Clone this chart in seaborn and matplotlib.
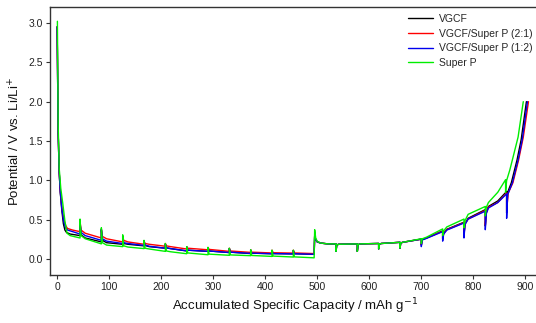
import matplotlib
matplotlib.use("Agg")
import matplotlib.pyplot as plt
import seaborn as sns
import pandas as pd

# ---- data: (accumulated capacity mAh/g, potential V) ----
vgcf = [
    (0, 2.95), (2, 1.6), (4, 1.1), (6, 0.85), (9, 0.62), (12, 0.45), (15, 0.37), (18, 0.34), (25, 0.32),
    (44, 0.30), (44, 0.46), (46, 0.31), (54, 0.27),
    (85, 0.22), (85, 0.37), (87, 0.24), (95, 0.21),
    (126, 0.19), (126, 0.29), (128, 0.20), (136, 0.19),
    (167, 0.17), (167, 0.23), (169, 0.175), (177, 0.16),
    (208, 0.14), (208, 0.19), (210, 0.145), (218, 0.135),
    (249, 0.105), (249, 0.155), (251, 0.115),
    (290, 0.10), (290, 0.145), (292, 0.105),
    (331, 0.085), (331, 0.135), (333, 0.09),
    (372, 0.072), (372, 0.115), (374, 0.077),
    (413, 0.07), (413, 0.11), (415, 0.072),
    (454, 0.068), (454, 0.11), (456, 0.07),
    (494, 0.063), (495, 0.29), (497, 0.25), (500, 0.22), (507, 0.205), (520, 0.195),
    (536, 0.195), (536, 0.10), (537.5, 0.18), (541, 0.19),
    (577, 0.195), (577, 0.10), (578.5, 0.185), (582, 0.195),
    (618, 0.20), (618, 0.13), (619.5, 0.19), (623, 0.20),
    (659, 0.215), (659, 0.14), (660.5, 0.205), (664, 0.215),
    (700, 0.255), (700, 0.18), (702, 0.25), (710, 0.27),
    (741, 0.36), (741, 0.26), (743, 0.33), (749, 0.38),
    (782, 0.47), (782, 0.30), (784, 0.45), (790, 0.52),
    (823, 0.63), (823, 0.42), (825, 0.60), (829, 0.67), (847, 0.74),
    (864, 0.86), (864, 0.59), (866, 0.85), (873, 0.97), (884, 1.26), (892, 1.52), (902, 2.0),
]

vgcf_sp_21 = [
    (0, 2.95), (2, 1.6), (4, 1.1), (6, 0.87), (9, 0.66), (13, 0.50), (17, 0.42), (20, 0.39), (30, 0.37),
    (44, 0.35), (44, 0.48), (46, 0.37), (54, 0.33),
    (85, 0.27), (85, 0.38), (87, 0.29), (95, 0.26),
    (126, 0.22), (126, 0.29), (128, 0.24), (136, 0.22),
    (167, 0.19), (167, 0.23), (169, 0.20), (177, 0.19),
    (208, 0.165), (208, 0.20), (210, 0.17), (218, 0.16),
    (249, 0.13), (249, 0.16), (251, 0.14),
    (290, 0.12), (290, 0.15), (292, 0.125),
    (331, 0.10), (331, 0.14), (333, 0.105),
    (372, 0.087), (372, 0.12), (374, 0.09),
    (413, 0.08), (413, 0.115), (415, 0.083),
    (454, 0.078), (454, 0.115), (456, 0.08),
    (494, 0.072), (495, 0.29), (497, 0.25), (500, 0.22), (507, 0.205), (520, 0.195),
    (536, 0.195), (536, 0.10), (537.5, 0.18), (541, 0.19),
    (577, 0.195), (577, 0.10), (578.5, 0.185), (582, 0.195),
    (618, 0.20), (618, 0.13), (619.5, 0.19), (623, 0.20),
    (659, 0.215), (659, 0.14), (660.5, 0.205), (664, 0.215),
    (700, 0.255), (700, 0.18), (702, 0.25), (710, 0.27),
    (741, 0.355), (741, 0.26), (743, 0.33), (749, 0.375),
    (782, 0.465), (782, 0.32), (784, 0.45), (790, 0.51),
    (823, 0.62), (823, 0.43), (825, 0.59), (829, 0.66), (847, 0.72),
    (864, 0.84), (864, 0.62), (867, 0.84), (876, 0.97), (887, 1.26), (896, 1.55), (906, 2.0),
]

vgcf_sp_12 = [
    (0, 2.95), (2, 1.6), (4, 1.1), (6, 0.86), (9, 0.64), (13, 0.47), (16, 0.40), (20, 0.37), (30, 0.35),
    (44, 0.32), (44, 0.47), (46, 0.34), (54, 0.30),
    (85, 0.24), (85, 0.38), (87, 0.26), (95, 0.23),
    (126, 0.20), (126, 0.29), (128, 0.21), (136, 0.20),
    (167, 0.175), (167, 0.23), (169, 0.18), (177, 0.165),
    (208, 0.14), (208, 0.19), (210, 0.145), (218, 0.135),
    (249, 0.107), (249, 0.155), (251, 0.115),
    (290, 0.10), (290, 0.145), (292, 0.105),
    (331, 0.085), (331, 0.135), (333, 0.09),
    (372, 0.074), (372, 0.115), (374, 0.078),
    (413, 0.07), (413, 0.11), (415, 0.072),
    (454, 0.068), (454, 0.11), (456, 0.07),
    (494, 0.063), (495, 0.29), (497, 0.25), (500, 0.22), (507, 0.205), (520, 0.195),
    (536, 0.195), (536, 0.10), (537.5, 0.18), (541, 0.19),
    (577, 0.195), (577, 0.10), (578.5, 0.185), (582, 0.195),
    (618, 0.20), (618, 0.13), (619.5, 0.19), (623, 0.20),
    (659, 0.215), (659, 0.14), (660.5, 0.205), (664, 0.215),
    (700, 0.255), (700, 0.16), (702, 0.245), (710, 0.265),
    (741, 0.35), (741, 0.23), (743, 0.32), (749, 0.37),
    (782, 0.46), (782, 0.27), (784, 0.44), (790, 0.51),
    (823, 0.61), (823, 0.375), (825, 0.58), (829, 0.65), (847, 0.72),
    (864, 0.83), (864, 0.52), (866, 0.82), (875, 0.97), (886, 1.26), (894, 1.52), (904, 2.0),
]

super_p = [
    (0.5, 3.02), (2, 1.7), (4, 1.15), (7, 0.9), (11, 0.7), (15, 0.48), (19, 0.33), (25, 0.30),
    (44, 0.27), (44, 0.51), (46, 0.30), (54, 0.26),
    (85, 0.195), (85, 0.40), (87, 0.21), (95, 0.18),
    (126, 0.16), (126, 0.31), (128, 0.17), (136, 0.155),
    (167, 0.135), (167, 0.24), (169, 0.14), (177, 0.13),
    (208, 0.10), (208, 0.20), (210, 0.105), (218, 0.095),
    (249, 0.07), (249, 0.16), (251, 0.08),
    (290, 0.057), (290, 0.15), (292, 0.065),
    (331, 0.05), (331, 0.14), (333, 0.055),
    (372, 0.045), (372, 0.12), (374, 0.048),
    (413, 0.036), (413, 0.115), (415, 0.04),
    (454, 0.028), (454, 0.115), (456, 0.03),
    (494, 0.018), (495, 0.375), (497, 0.27), (500, 0.225), (507, 0.205), (520, 0.195),
    (536, 0.195), (536, 0.10), (537.5, 0.18), (541, 0.19),
    (577, 0.195), (577, 0.10), (578.5, 0.185), (582, 0.195),
    (618, 0.20), (618, 0.13), (619.5, 0.19), (623, 0.20),
    (659, 0.215), (659, 0.14), (660.5, 0.205), (664, 0.215),
    (700, 0.26), (700, 0.20), (702, 0.26), (710, 0.28),
    (741, 0.385), (741, 0.30), (743, 0.36), (749, 0.41),
    (782, 0.51), (782, 0.40), (784, 0.49), (790, 0.57),
    (823, 0.67), (823, 0.55), (825, 0.66), (829, 0.72), (847, 0.85),
    (862, 1.01), (862, 0.85), (864, 1.0), (870, 1.13), (875, 1.26), (886, 1.55), (896, 2.0),
]

series_names = ["VGCF", "VGCF/Super P (2:1)", "VGCF/Super P (1:2)", "Super P"]
series_data = [vgcf, vgcf_sp_21, vgcf_sp_12, super_p]
colors = ["#000000", "#ff0000", "#0000ee", "#00ee00"]

x_ticks = [0, 100, 200, 300, 400, 500, 600, 700, 800, 900]
y_ticks = [0.0, 0.5, 1.0, 1.5, 2.0, 2.5, 3.0]

rows = []
for name, pts in zip(series_names, series_data):
    for i, (c, v) in enumerate(pts):
        rows.append({"Sample": name, "order": i, "Capacity": c, "Potential": v})
df = pd.DataFrame(rows)

sns.set_style("ticks")
plt.rcParams["font.family"] = ["Liberation Sans", "DejaVu Sans"]

fig = plt.figure(figsize=(5.36, 3.23), dpi=100)
ax = fig.add_axes([0.0933, 0.1486, 0.915, 0.8294])

sns.lineplot(data=df, x="Capacity", y="Potential", hue="Sample",
             hue_order=series_names, palette=colors, sort=False,
             estimator=None, linewidth=1.0, ax=ax)

ax.set_xlim(-13.7, 929)
ax.set_ylim(-0.2, 3.2)
ax.set_xticks(x_ticks)
ax.set_yticks(y_ticks)
ax.set_yticklabels([f"{t:.1f}" for t in y_ticks])
ax.tick_params(axis="both", direction="out", length=3, width=0.8,
               labelsize=7.5, colors="#333333", labelcolor="#222222", pad=2)
for s in ax.spines.values():
    s.set_color("#333333")
    s.set_linewidth(1.0)
ax.spines["right"].set_visible(False)

ax.set_xlabel("Accumulated Specific Capacity / mAh g$^{-1}$", fontsize=9.5, color="#111111", labelpad=3)
ax.set_ylabel("Potential / V vs. Li/Li$^{+}$", fontsize=9.5, color="#111111", labelpad=4)

leg = ax.legend(loc="upper left", bbox_to_anchor=(0.754, 0.97), bbox_transform=fig.transFigure,
                frameon=False, fontsize=7.5, handlelength=2.4, handletextpad=0.5,
                labelspacing=0.45, borderaxespad=0.0)
for line in leg.get_lines():
    line.set_linewidth(1.0)

fig.savefig("out.png", dpi=100)
